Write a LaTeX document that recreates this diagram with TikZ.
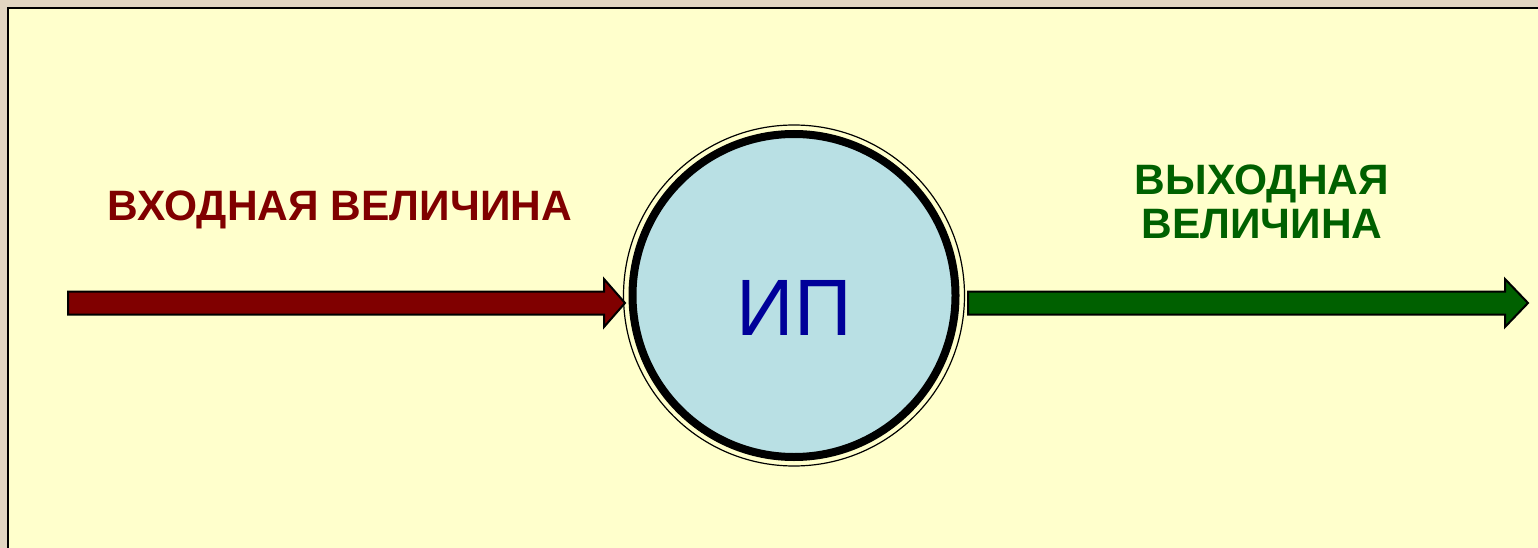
\documentclass[tikz,border=0pt]{standalone}
\usepackage{fontspec}
\setmainfont{Liberation Sans}
\usetikzlibrary{calc}
\definecolor{beige}{HTML}{E2D6C2}
\definecolor{panel}{HTML}{FFFFCC}
\definecolor{inred}{HTML}{800000}
\definecolor{outgreen}{HTML}{006000}
\definecolor{ipfill}{HTML}{B9E0E4}
\definecolor{ipblue}{HTML}{000099}
\tikzset{
  arrowbody/.style={draw=black, line width=2pt, line join=miter},
  lbl/.style={font=\bfseries\fontsize{42.5}{40}\selectfont, anchor=base, inner sep=0pt},
}
\begin{document}
\begin{tikzpicture}[x=1pt,y=-1pt]
\useasboundingbox (0,0) rectangle (1538,548);
\clip (0,0) rectangle (1538,548);
\fill[beige] (0,0) rectangle (1538,548);
\draw[fill=panel, line width=2.5pt] (8,8) rectangle (1560,570);
% circle
\node[circle, minimum size=341pt, draw=black, line width=1.2pt, inner sep=0pt] (ring) at (794,295.5) {};
\node[circle, minimum size=323pt, draw=black, fill=ipfill, line width=8pt, inner sep=0pt] (ip) at (794,295.5) {};
\node[font=\fontsize{80}{80}\selectfont, text=ipblue, inner sep=0pt, anchor=base] (iptext) at (794,335) {ИП};
% input arrow
\coordinate (inStart) at (68,303);
\coordinate (inTip) at (625,303);
\draw[arrowbody, fill=inred]
  ($(inStart)+(0,-11.5)$) -- (604,291.5) -- (604,279) -- (inTip) -- (604,327) -- (604,314.5) -- ($(inStart)+(0,11.5)$) -- cycle;
% output arrow
\coordinate (outStart) at (968,303);
\coordinate (outEnd) at (1528,303);
\draw[arrowbody, fill=outgreen]
  ($(outStart)+(0,-11.5)$) -- (1505,291.5) -- (1505,279) -- (outEnd) -- (1505,327) -- (1505,314.5) -- ($(outStart)+(0,11.5)$) -- cycle;
% labels
\node[lbl, text=inred] (inlbl) at (340,220) {ВХОДНАЯ ВЕЛИЧИНА};
\node[lbl, text=outgreen] (outlbl1) at (1262,194) {ВЫХОДНАЯ};
\node[lbl, text=outgreen] (outlbl2) at (1262,238) {ВЕЛИЧИНА};
\end{tikzpicture}
\end{document}
